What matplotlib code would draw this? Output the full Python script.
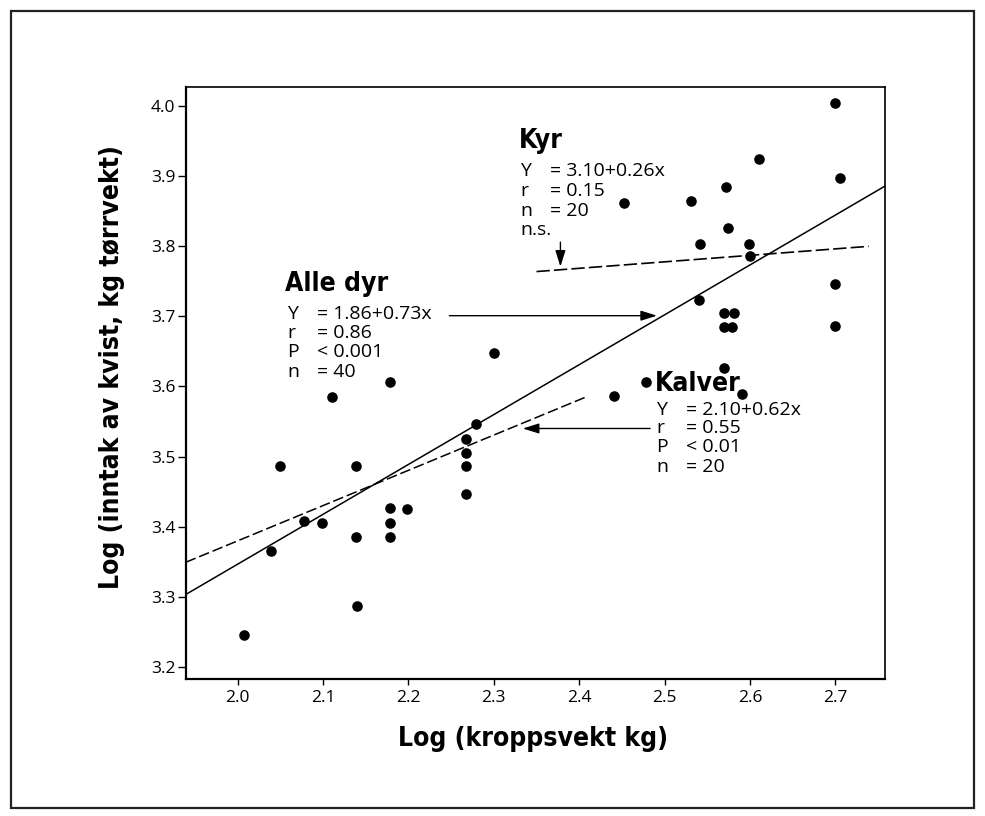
import matplotlib
matplotlib.use("Agg")
import matplotlib.pyplot as plt
import matplotlib.font_manager as fm
from matplotlib.patches import Rectangle

# ---------------- data ----------------
body_x = [2.008, 2.039, 2.050, 2.078, 2.099, 2.110, 2.139, 2.139, 2.140, 2.179,
          2.179, 2.179, 2.179, 2.198, 2.268, 2.268, 2.268, 2.268, 2.279, 2.300,
          2.441, 2.478, 2.452, 2.531, 2.541, 2.540, 2.572, 2.574, 2.570, 2.581,
          2.570, 2.579, 2.570, 2.591, 2.599, 2.600, 2.611, 2.699, 2.705, 2.699,
          2.699]
intake_y = [3.245, 3.365, 3.486, 3.408, 3.405, 3.585, 3.486, 3.385, 3.287, 3.606,
            3.426, 3.405, 3.385, 3.425, 3.525, 3.505, 3.487, 3.447, 3.546, 3.648,
            3.586, 3.606, 3.862, 3.865, 3.803, 3.723, 3.884, 3.826, 3.705, 3.705,
            3.685, 3.685, 3.627, 3.589, 3.804, 3.786, 3.924, 4.004, 3.897, 3.746,
            3.686]

# regression lines (end points)
alle_line_x = [1.9393, 2.758]
alle_line_y = [3.303, 3.886]
kalver_line_x = [1.9393, 2.41]
kalver_line_y = [3.349, 3.586]
kyr_line_x = [2.350, 2.739]
kyr_line_y = [3.764, 3.800]

x_ticks = [2.0, 2.1, 2.2, 2.3, 2.4, 2.5, 2.6, 2.7]
y_ticks = [3.2, 3.3, 3.4, 3.5, 3.6, 3.7, 3.8, 3.9, 4.0]
x_limits = [1.9393, 2.758]
y_limits = [3.182, 4.027]

x_label = "Log (kroppsvekt kg)"
y_label = "Log (inntak av kvist, kg tørrvekt)"

alle_title = "Alle dyr"
alle_keys = ["Y", "r", "P", "n"]
alle_vals = ["= 1.86+0.73x", "= 0.86", "< 0.001", "= 40"]
kyr_title = "Kyr"
kyr_keys = ["Y", "r", "n", "n.s."]
kyr_vals = ["= 3.10+0.26x", "= 0.15", "= 20", ""]
kalver_title = "Kalver"
kalver_keys = ["Y", "r", "P", "n"]
kalver_vals = ["= 2.10+0.62x", "= 0.55", "< 0.01", "= 20"]

# ---------------- fonts ----------------
ttf = fm.fontManager.ttflist
names = {f.name for f in ttf}
if "Liberation Sans Narrow" in names:
    BOLD = dict(family="Liberation Sans Narrow", weight="bold")
    title_fs, axlab_fs = 23, 24
elif any(f.name == "DejaVu Sans" and "condensed" in str(f.stretch) for f in ttf):
    BOLD = dict(family="DejaVu Sans", stretch="condensed", weight="bold")
    title_fs, axlab_fs = 19, 19
else:
    BOLD = dict(family="DejaVu Sans", weight="bold")
    title_fs, axlab_fs = 16, 17
BODY_FAMILY = "Open Sans" if "Open Sans" in names else "DejaVu Sans"
plt.rcParams["font.family"] = [BODY_FAMILY, "DejaVu Sans"]

# ---------------- figure ----------------
W, H = 985, 816
fig = plt.figure(figsize=(W / 100, H / 100), dpi=100)
fig.patch.set_facecolor("white")
ax = fig.add_axes([185.7 / W, 1 - 679.3 / H, (885 - 185.7) / W, (679.3 - 87.3) / H])

# outer frame
fig.patches.append(Rectangle((11 / W, 1 - 808 / H), (974 - 11) / W, (808 - 11) / H,
                             transform=fig.transFigure, fill=False,
                             edgecolor="#222222", linewidth=1.6))

ax.scatter(body_x, intake_y, s=58, c="black", linewidths=0, zorder=3)
ax.plot(alle_line_x, alle_line_y, color="black", lw=1.1, zorder=2)
ax.plot(kalver_line_x, kalver_line_y, color="black", lw=1.1, dashes=(7, 2.5), zorder=2)
ax.plot(kyr_line_x, kyr_line_y, color="black", lw=1.2, dashes=(8, 2.5), zorder=2)

ax.set_xlim(x_limits)
ax.set_ylim(y_limits)
ax.set_xticks(x_ticks)
ax.set_yticks(y_ticks)
ax.set_xticklabels([f"{v:.1f}" for v in x_ticks])
ax.set_yticklabels([f"{v:.1f}" for v in y_ticks])
ax.tick_params(axis="y", direction="out", length=5.5, width=1.0, pad=2, labelsize=12.5)
ax.tick_params(axis="x", direction="out", length=4.5, width=1.0, pad=3, labelsize=12.5)
for s in ["left", "bottom"]:
    ax.spines[s].set_linewidth(1.6)
for s in ["top", "right"]:
    ax.spines[s].set_linewidth(1.2)

# axis labels
fig.text(533 / W, 1 - 739 / H, x_label, ha="center", va="center",
         fontsize=axlab_fs, **BOLD)
fig.text(112 / W, 1 - 367 / H, y_label, ha="center", va="center",
         rotation=90, fontsize=axlab_fs, **BOLD)

# annotation blocks
def block(x0, y_title, y_lines, title, keys, vals, dx=0.035):
    ax.text(x0 - 0.002, y_title, title, ha="left", va="center",
            fontsize=title_fs, **BOLD, zorder=4)
    for yy, k, v in zip(y_lines, keys, vals):
        ax.text(x0, yy, k, ha="left", va="center", fontsize=14, zorder=4)
        if v:
            ax.text(x0 + dx, yy, v, ha="left", va="center", fontsize=14, zorder=4)

block(2.058, 3.746, [3.704, 3.676, 3.649, 3.621], alle_title, alle_keys, alle_vals)
block(2.331, 3.950, [3.907, 3.879, 3.851, 3.824], kyr_title, kyr_keys, kyr_vals)
block(2.490, 3.603, [3.567, 3.541, 3.513, 3.485], kalver_title, kalver_keys, kalver_vals)

arrow = dict(arrowstyle="-|>,head_length=0.7,head_width=0.22", color="black",
             lw=1.0, shrinkA=0, shrinkB=0, mutation_scale=14)
ax.annotate("", xy=(2.491, 3.701), xytext=(2.248, 3.701), arrowprops=arrow)
ax.annotate("", xy=(2.334, 3.540), xytext=(2.483, 3.540), arrowprops=arrow)
ax.annotate("", xy=(2.378, 3.771), xytext=(2.378, 3.806), arrowprops=arrow)

fig.savefig("out.png", dpi=100, facecolor="white")
